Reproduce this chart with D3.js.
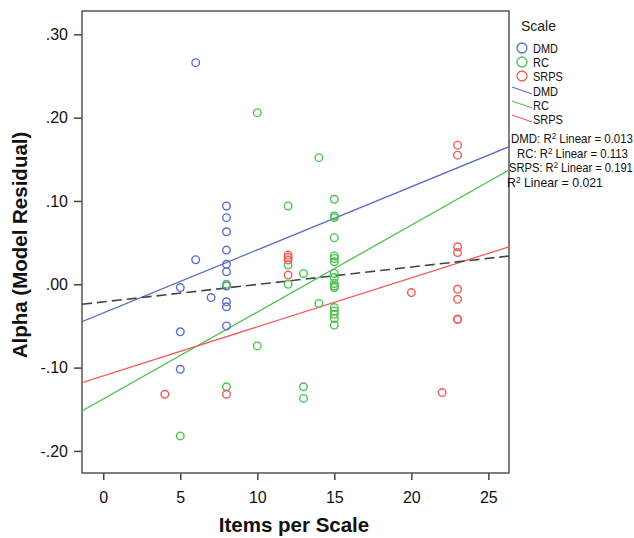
<!DOCTYPE html>
<html>
<head>
<meta charset="utf-8">
<script src="https://cdn.jsdelivr.net/npm/d3@7"></script>
<style>
  html, body { margin: 0; padding: 0; background: #fff; }
  svg { display: block; font-family: Arial, "Liberation Sans", sans-serif; }
</style>
</head>
<body>
<svg id="chart" width="634" height="538"></svg>
<script>
// ---- data ----
const seriesNames = ["DMD", "RC", "SRPS"];
const dmdX = [6, 6, 8, 8, 8, 8, 8, 8, 8, 8, 8, 8, 5, 5, 5, 7];
const dmdY = [0.266, 0.0295, 0.094, 0.080, 0.063, 0.041, 0.024, 0.015, -0.002, -0.021, -0.027, -0.050, -0.004, -0.057, -0.102, -0.016];
const rcX = [10, 10, 14, 14, 12, 12, 12, 13, 13, 13,
             15, 15, 15, 15, 15, 15, 15, 15, 15, 15, 15, 15, 15, 15, 15, 15, 15,
             8, 8, 5];
const rcY = [0.206, -0.074, 0.152, -0.023, 0.094, 0.023, 0.000, 0.013, -0.123, -0.137,
             0.102, 0.082, 0.080, 0.056, 0.034, 0.031, 0.027, 0.013, 0.008, 0.001, -0.002, -0.004, -0.028, -0.032, -0.036, -0.041, -0.049,
             0.000, -0.123, -0.182];
const srpsX = [4, 8, 12, 12, 12, 12, 20, 22, 23, 23, 23, 23, 23, 23, 23, 23];
const srpsY = [-0.132, -0.132, 0.035, 0.032, 0.029, 0.011, -0.010, -0.130, 0.167, 0.155, 0.045, 0.038, -0.006, -0.018, -0.042, -0.042];

// fit lines: intercept and slope per series, then total
const fitNames = ["DMD", "RC", "SRPS", "Total"];
const fitIntercept = [-0.0345, -0.1376, -0.1099, -0.0211];
const fitSlope = [0.00758, 0.01043, 0.00588, 0.00209];
const r2Labels = ["DMD: R", "RC: R", "SRPS: R", "R"];
const r2Values = ["0.013", "0.113", "0.191", "0.021"];

const xTicks = [0, 5, 10, 15, 20, 25];
const yTicks = [-0.2, -0.1, 0, 0.1, 0.2, 0.3];
const xDomain = [-1.38, 26.34];
const yDomain = [-0.2265, 0.328];

// ---- styles ----
const colors = { DMD: "#5b6ec9", RC: "#4cc24f", SRPS: "#f05a5a", Total: "#444" };

const svg = d3.select("#chart");
const plot = { left: 82, right: 509, top: 11, bottom: 473 };

const x = d3.scaleLinear().domain(xDomain).range([plot.left, plot.right]);
const y = d3.scaleLinear().domain(yDomain).range([plot.bottom, plot.top]);

svg.append("defs").append("clipPath").attr("id", "clip")
  .append("rect").attr("x", plot.left).attr("y", plot.top)
  .attr("width", plot.right - plot.left).attr("height", plot.bottom - plot.top);

// axes
const fmtY = v => { const s = d3.format(".2f")(v); return s.replace("\u2212", "-").replace("0.", "."); };
const xAxis = svg.append("g").attr("transform", `translate(0,${plot.bottom})`)
  .call(d3.axisBottom(x).tickValues(xTicks).tickSize(7).tickPadding(12).tickFormat(d3.format("d")));
const yAxis = svg.append("g").attr("transform", `translate(${plot.left},0)`)
  .call(d3.axisLeft(y).tickValues(yTicks).tickSize(8).tickPadding(6).tickFormat(fmtY));
[xAxis, yAxis].forEach(g => {
  g.select(".domain").remove();
  g.selectAll(".tick line").attr("stroke", "#444").attr("stroke-width", 1.5);
  g.selectAll(".tick text").attr("fill", "#111").style("font-size", "16px")
    .style("font-family", "Arial, 'Liberation Sans', sans-serif");
});

// frame
svg.append("rect").attr("x", plot.left).attr("y", plot.top)
  .attr("width", plot.right - plot.left).attr("height", plot.bottom - plot.top)
  .attr("fill", "none").attr("stroke", "#555").attr("stroke-width", 1.5);

const g = svg.append("g").attr("clip-path", "url(#clip)");

// fit lines
fitNames.forEach((n, i) => {
  const pts = xDomain.map(v => [x(v), y(fitIntercept[i] + fitSlope[i] * v)]);
  g.append("path").attr("d", d3.line()(pts))
    .attr("fill", "none").attr("stroke", colors[n])
    .attr("stroke-width", n === "Total" ? 1.6 : 1.3)
    .attr("stroke-dasharray", n === "Total" ? "10,5" : null);
});

// points
const sets = [[dmdX, dmdY, "DMD"], [rcX, rcY, "RC"], [srpsX, srpsY, "SRPS"]];
sets.forEach(([xs, ys, n]) => {
  g.selectAll(null).data(xs.map((v, i) => [v, ys[i]])).enter().append("circle")
    .attr("cx", d => x(d[0])).attr("cy", d => y(d[1])).attr("r", 3.8)
    .attr("fill", "none").attr("stroke", colors[n]).attr("stroke-width", 1.4);
});

// axis titles
svg.append("text").attr("x", 294).attr("y", 532).attr("text-anchor", "middle")
  .style("font-size", "20.5px").style("font-weight", "bold").attr("fill", "#111").text("Items per Scale");
svg.append("text").attr("transform", "translate(27,245) rotate(-90)").attr("text-anchor", "middle")
  .style("font-size", "20.5px").style("font-weight", "bold").attr("fill", "#111").text("Alpha (Model Residual)");

// narrow text helper: squeeze horizontally to a target width
function narrow(sel, x0, y0, target) {
  const w = sel.node().getComputedTextLength();
  const f = Math.min(1, target / w);
  sel.attr("transform", `translate(${x0},${y0}) scale(${f},1)`);
}

// legend
svg.append("text").attr("x", 521).attr("y", 31).style("font-size", "14px").attr("fill", "#222").text("Scale");
seriesNames.forEach((n, i) => {
  const cy = 48 + i * 14;
  svg.append("circle").attr("cx", 522).attr("cy", cy).attr("r", 5)
    .attr("fill", "none").attr("stroke", colors[n]).attr("stroke-width", 1.3);
  const t = svg.append("text").style("font-size", "12.5px").attr("fill", "#111").text(n);
  narrow(t, 533, cy + 4.5, t.node().getComputedTextLength() * 0.88);
});
seriesNames.forEach((n, i) => {
  const yy = 87 + i * 14;
  svg.append("line").attr("x1", 512).attr("y1", yy).attr("x2", 532).attr("y2", yy + 7)
    .attr("stroke", colors[n]).attr("stroke-width", 1.2);
  const t = svg.append("text").style("font-size", "12.5px").attr("fill", "#111").text(n);
  narrow(t, 533, yy + 8.5, t.node().getComputedTextLength() * 0.88);
});

// R2 annotations
const r2X = [511, 517, 509, 507];
const r2Y = [143, 158, 172, 187];
const r2W = [122, 111, 124, 96];
r2Labels.forEach((lab, i) => {
  const t = svg.append("text").style("font-size", "13px").attr("fill", "#111");
  t.append("tspan").text(lab);
  t.append("tspan").attr("dy", -4).style("font-size", "9px").text("2");
  t.append("tspan").attr("dy", 4).text(" Linear = " + r2Values[i]);
  narrow(t, r2X[i], r2Y[i], r2W[i]);
});
</script>
</body>
</html>
